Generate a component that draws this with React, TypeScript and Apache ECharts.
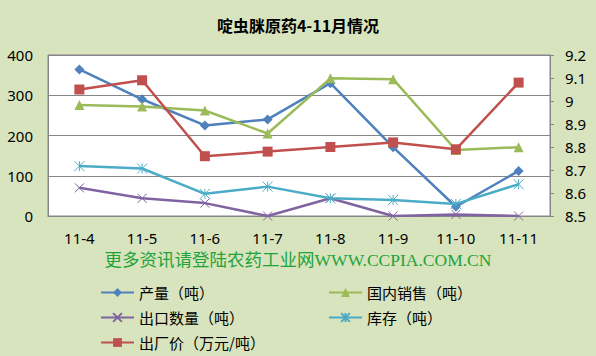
import React, { useEffect, useRef } from "react";
import * as echarts from "echarts";

const categories = ["11-4", "11-5", "11-6", "11-7", "11-8", "11-9", "11-10", "11-11"];
const production = [364, 290, 225, 240, 330, 171, 23, 112];
const domesticSales = [276, 272, 262, 205, 342, 340, 164, 171];
const exportQty = [70, 44, 32, 0, 44, 0, 4, 0];
const inventory = [124, 118, 55, 73, 44, 40, 30, 79];
const factoryPrice = [9.05, 9.09, 8.76, 8.78, 8.8, 8.82, 8.79, 9.08];

const names = ["产量（吨）", "国内销售（吨）", "出口数量（吨）", "库存（吨）", "出厂价（万元/吨）"];
const colors = ["#4F81BD", "#9BBB59", "#8064A2", "#4BACC6", "#C0504D"];

const crossPath = "path://M0,0L10,10M10,0L0,10";
const starPath = "path://M0,0L10,10M10,0L0,10M5,0L5,10";

export default function App() {
  const ref = useRef<HTMLDivElement>(null);
  useEffect(() => {
    if (!ref.current) return;
    const chart = echarts.init(ref.current, null, { renderer: "svg" });
    const axisFont = { fontFamily: "Noto Sans", fontSize: 15, color: "#000" };
    const legendText = { fontFamily: "Noto Sans CJK SC", fontSize: 15, color: "#000" };
    const legendPos = [
      [100, 285],
      [328, 285],
      [100, 310],
      [328, 310],
      [100, 335],
    ];
    const mkSeries = (i: number, data: number[], symbol: string, size: number, yAxisIndex: number, pathSym: boolean) => ({
      name: names[i],
      type: "line",
      data,
      yAxisIndex,
      symbol,
      symbolSize: size,
      showAllSymbol: true,
      lineStyle: { color: colors[i], width: 2.5 },
      itemStyle: pathSym
        ? { color: "rgba(0,0,0,0)", borderColor: colors[i], borderWidth: 1 }
        : { color: colors[i], borderColor: colors[i], borderWidth: 0 },
      emphasis: { disabled: true },
      z: 2 + i,
    });
    chart.setOption({
      animation: false,
      backgroundColor: "#D7E4BD",
      title: {
        text: "啶虫脒原药4-11月情况",
        left: "center",
        top: 12,
        textStyle: { fontFamily: "Noto Sans CJK SC", fontSize: 16, fontWeight: "bold", color: "#000" },
      },
      grid: { left: 48, right: 46, top: 55, bottom: 140, show: true, backgroundColor: "#fff", borderColor: "#868686", borderWidth: 1 },
      legend: names.map((n, i) => ({
        data: [n],
        left: legendPos[i][0],
        top: legendPos[i][1],
        padding: 0,
        itemWidth: 33,
        itemHeight: 11,
        textStyle: legendText,
        selectedMode: false,
      })),
      xAxis: {
        type: "category",
        data: categories,
        boundaryGap: true,
        axisLine: { lineStyle: { color: "#868686" } },
        axisTick: { show: false },
        axisLabel: { ...axisFont, margin: 14 },
      },
      yAxis: [
        {
          type: "value",
          min: 0,
          max: 400,
          interval: 100,
          axisLine: { show: true, lineStyle: { color: "#868686" } },
          axisTick: { show: false },
          splitLine: { lineStyle: { color: "#868686", width: 1 } },
          axisLabel: { ...axisFont, margin: 15 },
        },
        {
          type: "value",
          min: 8.5,
          max: 9.2,
          interval: 0.1,
          position: "right",
          axisLine: { show: true, lineStyle: { color: "#868686" } },
          axisTick: { show: true, length: 4, lineStyle: { color: "#868686" } },
          splitLine: { show: false },
          axisLabel: { ...axisFont, margin: 15, formatter: (v: number) => String(Math.round(v * 10) / 10) },
        },
      ],
      graphic: [
        {
          type: "text",
          left: "center",
          top: 251,
          style: {
            text: "更多资讯请登陆农药工业网WWW.CCPIA.COM.CN",
            fill: "#22A33A",
            font: '17.5px "Liberation Serif", "Noto Sans CJK SC", serif',
          },
        },
      ],
      series: [
        mkSeries(0, production, "diamond", 10, 0, false),
        mkSeries(1, domesticSales, "triangle", 10, 0, false),
        mkSeries(2, exportQty, crossPath, 9, 0, true),
        mkSeries(3, inventory, starPath, 10, 0, true),
        mkSeries(4, factoryPrice, "rect", 10, 1, false),
      ],
    });
    return () => chart.dispose();
  }, []);
  return <div ref={ref} style={{ position: "fixed", left: 0, top: 0, width: 596, height: 356 }} />;
}
